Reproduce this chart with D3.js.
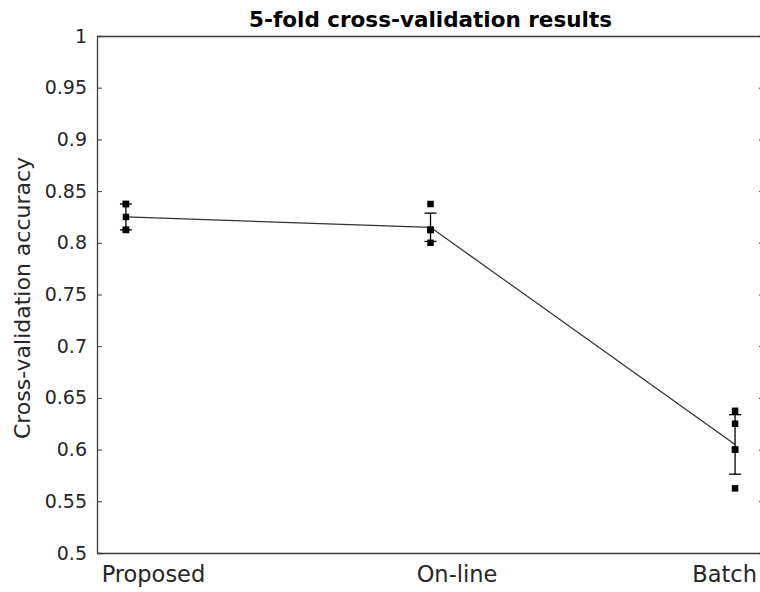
<!DOCTYPE html>
<html>
<head>
<meta charset="utf-8">
<script src="https://cdn.jsdelivr.net/npm/d3@7"></script>
<style>
  html, body { margin: 0; padding: 0; background: #fff; }
  svg { display: block; font-family: "DejaVu Sans", sans-serif; }
</style>
</head>
<body>
<svg id="chart" width="760" height="592"></svg>
<script>
// Methods compared and their per-fold cross-validation accuracy
const methods = ["Proposed", "On-line", "Batch"];
const proposedFolds = [0.8375, 0.8375, 0.825, 0.8125, 0.8125];
const onlineFolds = [0.8375, 0.8125, 0.8125, 0.8125, 0.8];
const batchFolds = [0.6375, 0.625, 0.6, 0.6, 0.5625];
const yTicks = [0.5, 0.55, 0.6, 0.65, 0.7, 0.75, 0.8, 0.85, 0.9, 0.95, 1];
const yTickLabels = ["0.5", "0.55", "0.6", "0.65", "0.7", "0.75", "0.8", "0.85", "0.9", "0.95", "1"];

const folds = [proposedFolds, onlineFolds, batchFolds];
const summary = folds.map((f, i) => ({
  i,
  mean: d3.mean(f),
  sd: d3.deviation(f)
}));

const svg = d3.select("#chart");
const plotL = 97, plotR = 764, plotT = 36, plotB = 553;

const x = d3.scaleLinear().domain([0.905, 3.095]).range([plotL, plotR]);
const y = d3.scaleLinear().domain([0.5, 1]).range([plotB, plotT]);
const xi = i => x(i + 1);

const axisColor = "#3a3a3a";
const textColor = "#262626";
const fontFamily = "DejaVu Sans, sans-serif";
// horizontal nudges keeping the category labels inside the figure
const labelShift = [27, 26, -11];

// Left axis with inward ticks
const yAxisL = svg.append("g")
  .attr("transform", `translate(${plotL},0)`)
  .call(d3.axisLeft(y).tickValues(yTicks).tickFormat((d, i) => yTickLabels[i]).tickSize(-5).tickPadding(10));
// Right axis: ticks only
const yAxisR = svg.append("g")
  .attr("transform", `translate(${plotR},0)`)
  .call(d3.axisRight(y).tickValues(yTicks).tickFormat("").tickSize(-5));
// Bottom axis with category labels
const xAxisB = svg.append("g")
  .attr("transform", `translate(0,${plotB})`)
  .call(d3.axisBottom(x).tickValues([1, 2, 3]).tickFormat((d) => methods[d - 1]).tickSize(0).tickPadding(13));
const xAxisT = svg.append("g")
  .attr("transform", `translate(0,${plotT})`)
  .call(d3.axisTop(x).tickValues([]).tickSize(0));

[yAxisL, yAxisR, xAxisB, xAxisT].forEach(g => {
  g.attr("font-family", fontFamily);
  g.selectAll(".domain").attr("stroke", axisColor).attr("stroke-width", 1.3);
  g.selectAll(".tick line").attr("stroke", axisColor).attr("stroke-width", 1);
  g.selectAll(".tick text").attr("fill", textColor);
});
yAxisL.selectAll(".tick text").style("font-size", "19px");
xAxisB.selectAll(".tick text")
  .style("font-size", "22.5px")
  .attr("dx", (d) => labelShift[d - 1]);

// Mean line
const line = d3.line().x(d => xi(d.i)).y(d => y(d.mean));
svg.append("path")
  .datum(summary)
  .attr("d", line)
  .attr("fill", "none")
  .attr("stroke", "#333")
  .attr("stroke-width", 1.3);

// Error bars (mean ± standard deviation)
const capHalf = 6;
const eb = svg.append("g").attr("stroke", "#000").attr("stroke-width", 1.3);
summary.forEach(s => {
  const cx = xi(s.i);
  const y0 = y(s.mean - s.sd), y1 = y(s.mean + s.sd);
  eb.append("line").attr("x1", cx).attr("x2", cx).attr("y1", y0).attr("y2", y1);
  eb.append("line").attr("x1", cx - capHalf).attr("x2", cx + capHalf).attr("y1", y0).attr("y2", y0);
  eb.append("line").attr("x1", cx - capHalf).attr("x2", cx + capHalf).attr("y1", y1).attr("y2", y1);
});

// Individual fold results
const ms = 6.5;
folds.forEach((f, i) => {
  svg.append("g").selectAll("rect")
    .data(f)
    .join("rect")
    .attr("x", xi(i) - ms / 2)
    .attr("y", d => y(d) - ms / 2)
    .attr("width", ms)
    .attr("height", ms)
    .attr("fill", "#000");
});

// Title
svg.append("text")
  .attr("x", (plotL + plotR) / 2)
  .attr("y", 27)
  .attr("text-anchor", "middle")
  .attr("font-weight", "bold")
  .attr("fill", "#000")
  .style("font-size", "21.5px")
  .text("5-fold cross-validation results");

// Y axis label
svg.append("text")
  .attr("transform", `translate(30,298) rotate(-90)`)
  .attr("text-anchor", "middle")
  .attr("fill", textColor)
  .style("font-size", "22px")
  .text("Cross-validation accuracy");
</script>
</body>
</html>
